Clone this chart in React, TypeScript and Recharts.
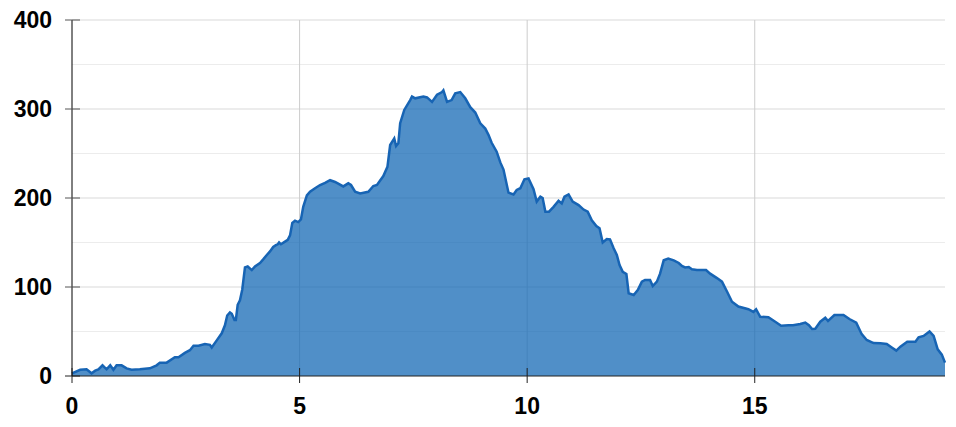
import { AreaChart, Area, XAxis, YAxis, CartesianGrid } from "recharts"

const positions = [
  0, 0.18, 0.32, 0.43, 0.51, 0.58, 0.67, 0.76, 0.84, 0.91, 0.98, 1.09, 1.2, 1.31, 1.49, 1.71, 1.86, 1.93,
  2.08, 2.26, 2.34, 2.48, 2.59, 2.67, 2.78, 2.92, 3.03, 3.07, 3.18, 3.29, 3.36, 3.41, 3.47, 3.51, 3.57, 3.6,
  3.64, 3.69, 3.74, 3.8, 3.86, 3.95, 4.02, 4.13, 4.2, 4.28, 4.35, 4.42, 4.48, 4.52, 4.55, 4.59, 4.68, 4.74,
  4.79, 4.84, 4.9, 4.97, 5.03, 5.08, 5.16, 5.23, 5.34, 5.45, 5.56, 5.67, 5.78, 5.96, 6.07, 6.13, 6.22, 6.33,
  6.51, 6.62, 6.7, 6.84, 6.93, 6.99, 7.08, 7.12, 7.17, 7.21, 7.3, 7.43, 7.47, 7.54, 7.72, 7.8, 7.91, 8.02,
  8.13, 8.16, 8.24, 8.34, 8.42, 8.53, 8.64, 8.75, 8.86, 8.97, 9.08, 9.15, 9.22, 9.33, 9.41, 9.48, 9.59, 9.7,
  9.77, 9.85, 9.94, 10.03, 10.14, 10.21, 10.29, 10.34, 10.4, 10.48, 10.58, 10.69, 10.76, 10.82, 10.91, 11.0,
  11.13, 11.24, 11.33, 11.42, 11.52, 11.59, 11.66, 11.75, 11.82, 11.9, 11.97, 12.03, 12.1, 12.18, 12.23,
  12.34, 12.43, 12.52, 12.59, 12.7, 12.76, 12.85, 12.92, 13.0, 13.1, 13.22, 13.33, 13.4, 13.47, 13.55, 13.62,
  13.73, 13.93, 14.02, 14.17, 14.28, 14.39, 14.5, 14.64, 14.86, 14.97, 15.03, 15.12, 15.3, 15.45, 15.58,
  15.74, 15.84, 16.0, 16.11, 16.19, 16.26, 16.33, 16.44, 16.55, 16.61, 16.75, 16.95, 17.08, 17.23, 17.35,
  17.46, 17.61, 17.76, 17.9, 18.01, 18.11, 18.2, 18.35, 18.53, 18.6, 18.71, 18.84, 18.93, 19.02, 19.11, 19.18,
]

const values = [
  3, 7, 7.5, 3, 6, 7.5, 12, 7.5, 12, 7, 12, 12, 8.6, 7, 7.5, 8.6, 12, 15,
  15, 21, 21, 26, 29, 34, 34, 36, 35, 32, 40, 48, 57, 68, 71.5, 70, 63, 63,
  80, 85, 97, 122, 123, 119, 123, 127, 131, 136, 140, 145, 147, 148, 150, 148, 151, 153,
  158, 172, 174.5, 173, 176, 190, 203, 207, 211, 214.6, 217, 220, 218, 213, 216.5, 214.6, 207, 205,
  207, 213.5, 214.6, 224.7, 235, 259.5, 267, 258.4, 261.5, 284, 299, 310, 314, 312, 314, 313, 308, 316,
  319, 321, 308, 310, 317.6, 319, 312, 302, 296, 284, 278, 271, 262, 252, 240, 232, 206, 204,
  209, 211, 221, 222, 210, 196, 201.5, 200, 184.6, 184.6, 190, 197, 194, 201.5, 204, 196,
  192, 187, 184.6, 175, 168.5, 166, 150, 154, 153.6, 143.5, 136, 124.7, 117, 114.6, 93,
  91, 96.6, 106, 108, 108, 101, 106, 115, 130, 132, 130, 127, 123.6, 122, 122.5, 120,
  119, 119, 115, 110, 106, 95, 83.5, 78, 75, 72, 75, 66.6, 66, 61, 56.5,
  57, 57, 58.4, 60, 57, 52.8, 53, 61, 65.5, 61.8, 68.5, 68.5, 64, 60, 47,
  40.5, 37, 36.7, 36, 32, 28.5, 33, 38.5, 38.5, 43.5, 45, 50, 45, 30, 24, 15,
]

const xTicks = [0, 5, 10, 15]
const yTicks = [0, 100, 200, 300, 400]
const yMinor = [50, 150, 250, 350]

const data = positions.map((x, i) => ({ x, y: values[i] }))

const FONT = "Arial, 'Liberation Sans', sans-serif"

const YTick = ({ x, y, payload }: any) => (
  <g>
    <line x1={x - 7} x2={x + 8} y1={y} y2={y} stroke={payload.value === 0 ? "#222" : "#555"} />
    <text x={x - 20} y={y} dy={8} textAnchor="end" fontFamily={FONT} fontWeight="bold" fontSize={23} fill="#000">
      {payload.value}
    </text>
  </g>
)

const XTick = ({ x, y, payload }: any) => (
  <g>
    <line x1={x} x2={x} y1={y - 8} y2={y + 7} stroke="#222" />
    <text x={x} y={y + 38} textAnchor="middle" fontFamily={FONT} fontWeight="bold" fontSize={23} fill="#000">
      {payload.value}
    </text>
  </g>
)

export default function App() {
  return (
    <AreaChart width={940} height={411} data={data} margin={{ top: 12, right: 3, left: 0, bottom: 0 }}>
      <CartesianGrid horizontalValues={yMinor} vertical={false} stroke="#ececec" />
      <CartesianGrid horizontalValues={[100, 200, 300, 400]} vertical={false} stroke="#d9d9d9" />
      <CartesianGrid horizontal={false} verticalValues={[5, 10, 15]} stroke="#cccccc" />
      <XAxis
        dataKey="x"
        type="number"
        domain={[0, 19.18]}
        ticks={xTicks}
        height={43}
        tickSize={0}
        tickMargin={0}
        tickLine={false}
        axisLine={{ stroke: "#222" }}
        tick={(p: any) => <XTick {...p} />}
        interval={0}
      />
      <YAxis
        type="number"
        domain={[0, 400]}
        ticks={yTicks}
        width={64}
        tickSize={0}
        tickMargin={0}
        tickLine={false}
        axisLine={{ stroke: "#000" }}
        tick={(p: any) => <YTick {...p} />}
        interval={0}
      />
      <Area
        type="linear"
        dataKey="y"
        stroke="#1764b4"
        strokeWidth={2.5}
        fill="#1669b5"
        fillOpacity={0.75}
        isAnimationActive={false}
      />
    </AreaChart>
  )
}
